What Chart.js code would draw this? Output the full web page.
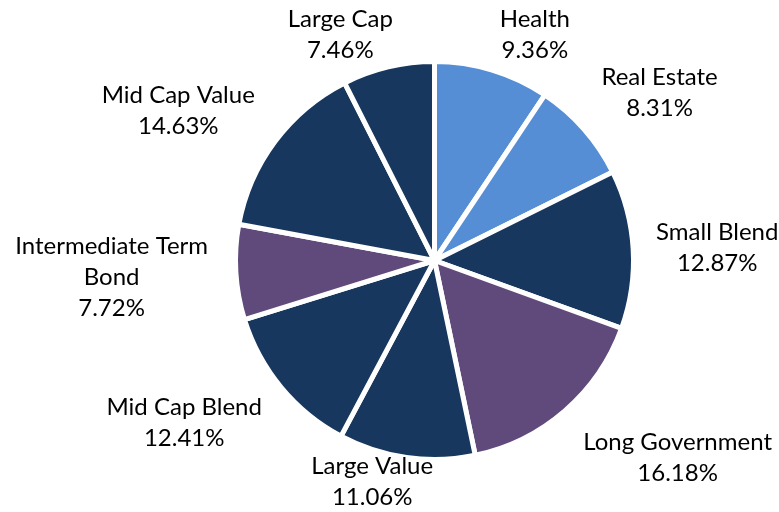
<!DOCTYPE html>
<html>
<head>
<meta charset="utf-8">
<script src="https://cdn.jsdelivr.net/npm/chart.js@4/dist/chart.umd.min.js"></script>
<style>
  html, body { margin: 0; padding: 0; background: #ffffff; }
  #wrap { width: 779px; height: 512px; position: relative; }
</style>
</head>
<body>
<div id="wrap"><canvas id="c" width="779" height="512"></canvas></div>
<script>
// ---- data ----
const categories = ["Health", "Real Estate", "Small Blend", "Long Government", "Large Value",
  "Mid Cap Blend", "Intermediate Term Bond", "Mid Cap Value", "Large Cap"];
const labelLines = [["Health"], ["Real Estate"], ["Small Blend"], ["Long Government"], ["Large Value"],
  ["Mid Cap Blend"], ["Intermediate Term", "Bond"], ["Mid Cap Value"], ["Large Cap"]];
const weights = [9.36, 8.31, 12.87, 16.18, 11.06, 12.41, 7.72, 14.63, 7.46];
const sliceColors = ["#558ED5", "#558ED5", "#17375E", "#604A7B", "#17375E",
  "#17375E", "#604A7B", "#17375E", "#17375E"];

const FONT = "24px Lato";
const LINE_H = 31;

const labelPlugin = {
  id: 'outLabels',
  afterDatasetsDraw(chart, args, opts) {
    const ctx = chart.ctx;
    const meta = chart.getDatasetMeta(0);
    ctx.save();
    ctx.font = FONT;
    ctx.fillStyle = '#000000';
    ctx.textAlign = 'center';
    ctx.textBaseline = 'middle';
    meta.data.forEach((arc, i) => {
      const p = arc.getProps(['x', 'y', 'startAngle', 'endAngle', 'outerRadius'], true);
      const mid = (p.startAngle + p.endAngle) / 2;
      const dx = Math.cos(mid), dy = Math.sin(mid);
      const lines = labelLines[i].concat([weights[i].toFixed(2) + '%']);
      let w = 0;
      lines.forEach(l => { w = Math.max(w, ctx.measureText(l).width); });
      const h = lines.length * LINE_H;
      const r = p.outerRadius + opts.gap;
      const nudge = (opts.nudges && opts.nudges[i]) || [0, 0];
      const cx = p.x + r * dx + dx * w / 2 + nudge[0];
      const cy = p.y + r * dy + dy * h / 2 + nudge[1];
      lines.forEach((l, k) => {
        ctx.fillText(l, cx, cy - h / 2 + LINE_H / 2 + k * LINE_H);
      });
    });
    ctx.restore();
  }
};

new Chart(document.getElementById('c'), {
  type: 'pie',
  data: {
    labels: categories,
    datasets: [{
      data: weights,
      backgroundColor: sliceColors,
      borderColor: '#ffffff',
      borderWidth: 5,
      hoverOffset: 0
    }]
  },
  options: {
    responsive: false,
    animation: false,
    radius: 199,
    layout: { padding: { left: 90, right: 0, top: 9, bottom: 0 } },
    plugins: {
      legend: { display: false },
      tooltip: { enabled: false },
      outLabels: {
        gap: 12,
        nudges: [[29, 6], [23, -8], [11, 1], [43, 14], [-24, -18], [-28, 8], [-16, 1], [-26, -5], [-33, 10]]
      }
    }
  },
  plugins: [labelPlugin]
});
</script>
</body>
</html>
